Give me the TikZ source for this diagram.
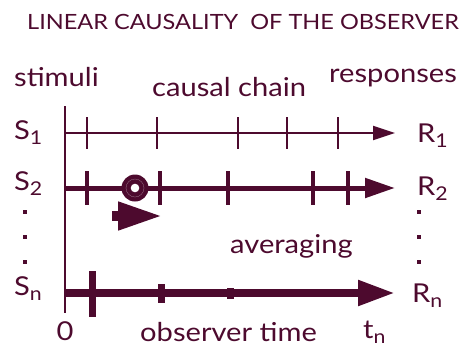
\documentclass[tikz,border=0pt]{standalone}
\usepackage{fontspec}
\setmainfont{Lato}[FakeStretch=1.12]
\usetikzlibrary{arrows.meta}
\definecolor{plum}{HTML}{4D0A2E}
\newcommand\lowsub[1]{\raisebox{-.45ex}{\fontsize{19}{19}\selectfont#1}}

\begin{document}
\begin{tikzpicture}[x=1pt,y=-1pt,
  lbl/.style={anchor=base west,inner sep=0pt,text=plum,font=\fontsize{26}{27}\selectfont},
  chain/.style={draw=plum,line width=#1},
  tick/.style={draw=plum,line width=#1}]
\useasboundingbox (0,0) rectangle (459,349);
% headings
\node[lbl,font=\fontsize{21}{22}\selectfont] (title) at (27,29) {LINEAR CAUSALITY\ \ OF THE OBSERVER};
\node[lbl] (stim) at (14,86) {stimuli};
\node[lbl] (cchain) at (152,96) {causal chain};
\node[lbl] (resp) at (329,82) {responses};
% observer axis
\coordinate (top) at (65,106);
\coordinate (bot) at (65,313);
\draw[plum,line width=1.3] (top)--(bot);
% row 1
\node[lbl] (s1) at (14,139) {S\lowsub{1}};
\node[lbl] (r1) at (417,142) {R\lowsub{1}};
\coordinate (a1) at (65,133);
\coordinate (b1) at (395,133);
\draw[chain=2,-{Triangle[length=22pt,width=14pt]}] (a1)--(b1);
\foreach \x in {87,157,238,287,338}
  \draw[tick=1.3] (\x,117)--(\x,149);
% row 2
\node[lbl] (s2) at (14,190) {S\lowsub{2}};
\node[lbl] (r2) at (417,195) {R\lowsub{2}};
\coordinate (a2) at (65,188);
\coordinate (b2) at (395,188);
\draw[chain=5,-{Triangle[length=30pt,width=19pt]}] (a2)--(b2);
\foreach \x in {87,160,228,313,348}
  \draw[tick=4] (\x,171)--(\x,205);
\node[circle,fill=plum,minimum size=27pt,inner sep=0pt] (obs) at (135,188) {};
\fill[white] (obs.center) circle (4.3pt);
\draw[plum!55!white,line width=0.3pt] (obs.center) circle (9pt);
\coordinate (m0) at (112,216);
\coordinate (m1) at (163,216);
\draw[chain=10,-{Triangle[length=45pt,width=26pt]}] (m0)--(m1);
% dots
\foreach \y in {212,237,262} {
  \fill[plum] (23,\y-2) rectangle +(4,4);
  \fill[plum] (417,\y-2) rectangle +(4,4);
}
\node[lbl] (avg) at (230,253) {averaging};
% row n
\node[lbl] (sn) at (14,295) {S\lowsub{n}};
\node[lbl] (rn) at (412,302) {R\lowsub{n}};
\coordinate (an) at (65,293);
\coordinate (bn) at (395,293);
\draw[chain=8,-{Triangle[length=37pt,width=24pt]}] (an)--(bn);
\draw[tick=7] (92,271)--(92,317);
\draw[tick=7] (161,284)--(161,303);
\draw[tick=7] (230,288)--(230,299);
% time axis labels
\node[lbl,anchor=base] (zero) at (65,340) {0};
\node[lbl] (otime) at (140,341) {observer time};
\node[lbl] (tn) at (363,338) {t\lowsub{n}};
\end{tikzpicture}
\end{document}
